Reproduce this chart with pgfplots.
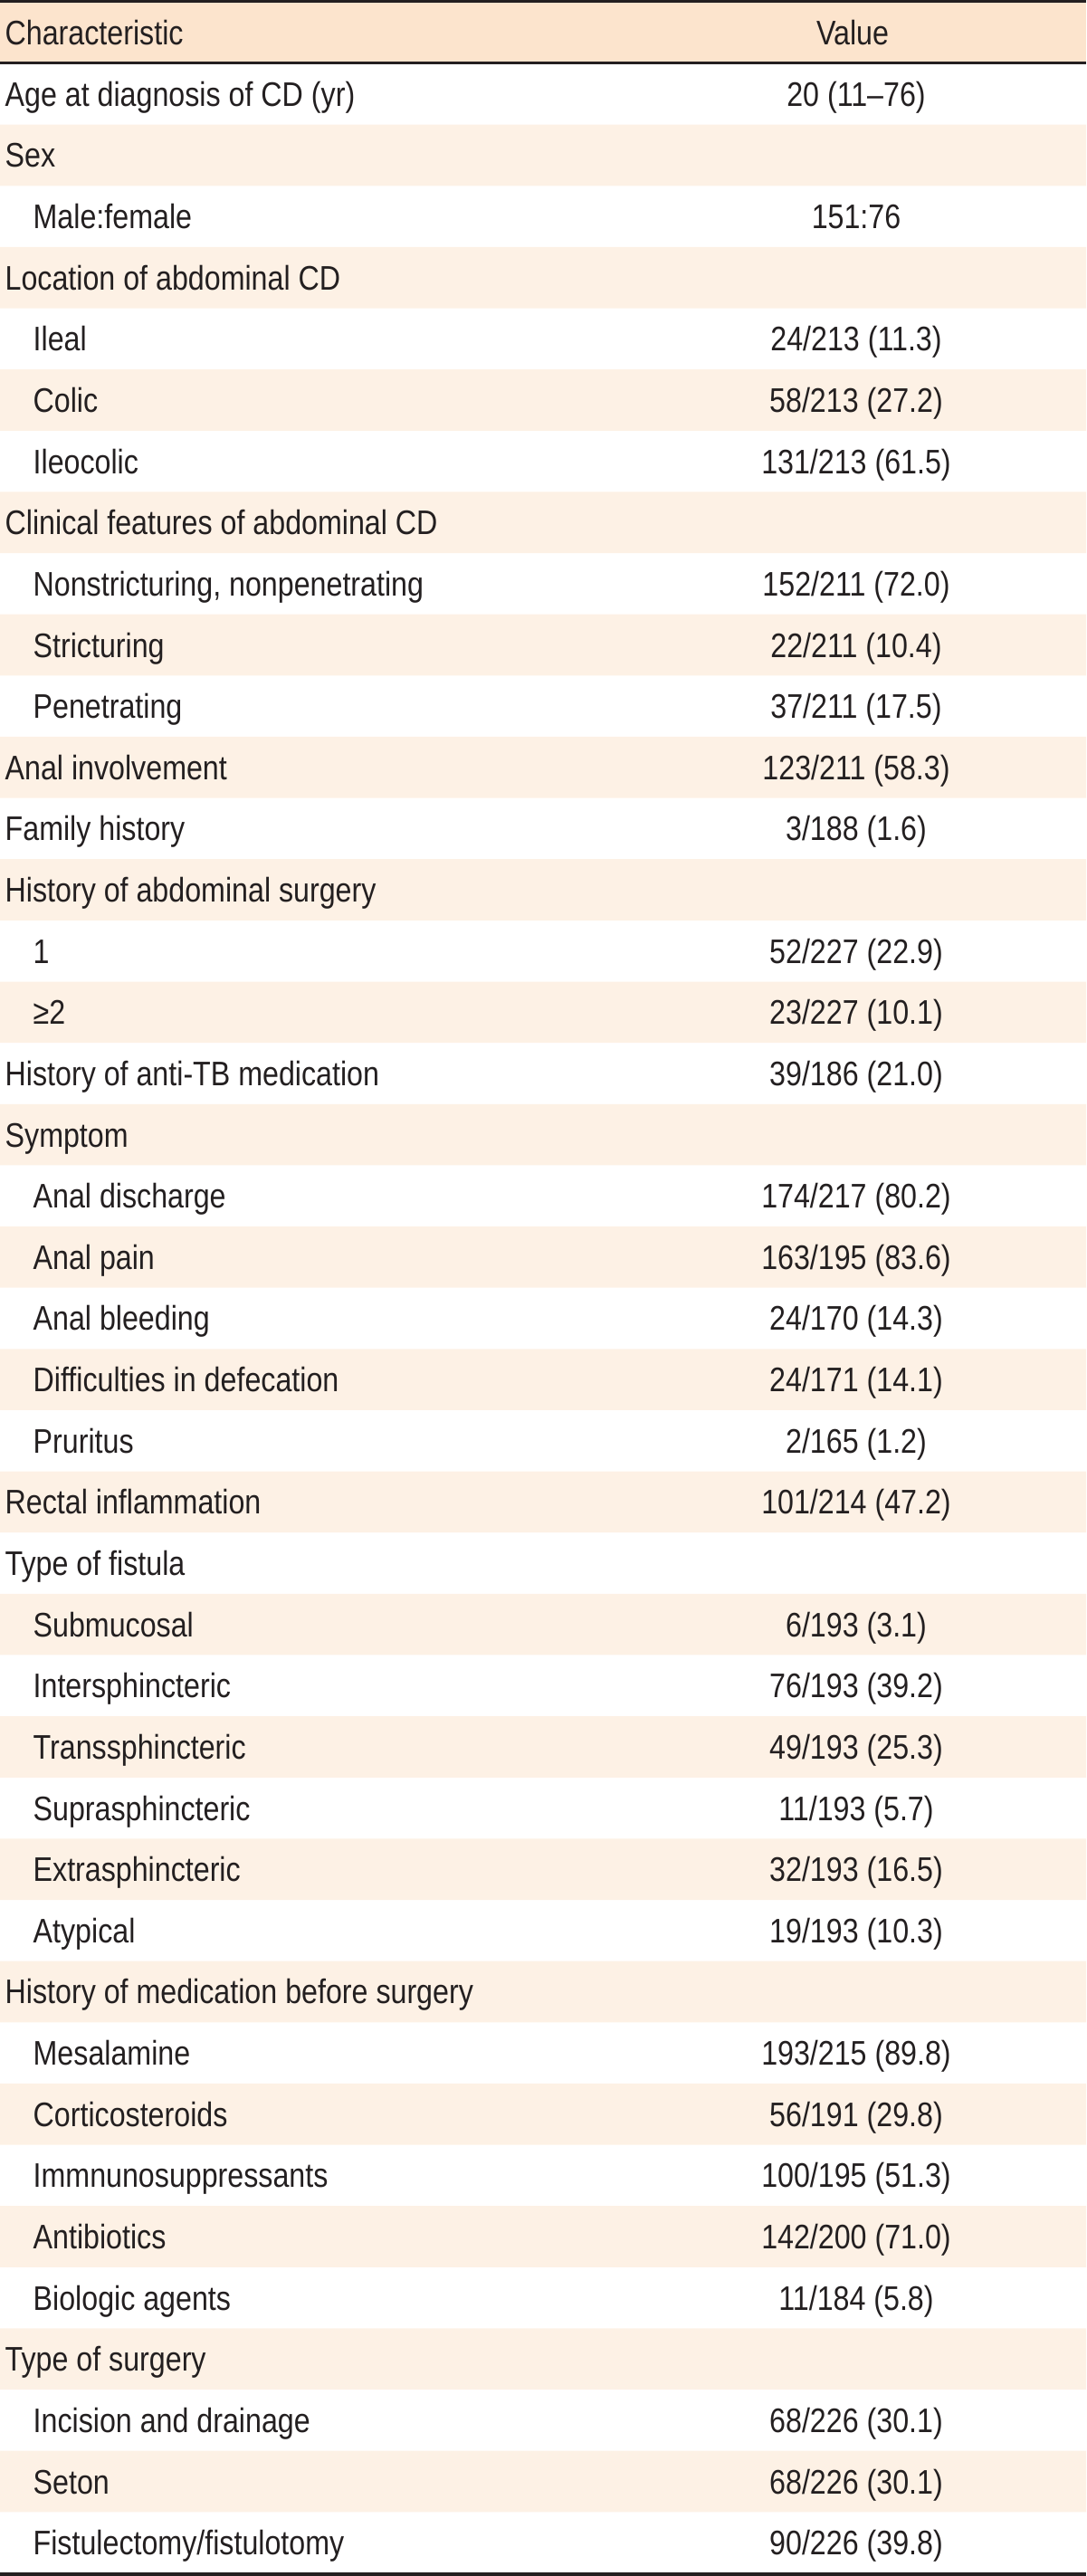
\documentclass[border=0pt]{standalone}
\usepackage{fontspec}
\setmainfont{Liberation Sans}[FakeStretch=0.855]
\usepackage{pgfplots}
\usepackage{pgfplotstable}
\pgfplotsset{compat=1.18}
\definecolor{headfill}{RGB}{252,228,205}
\definecolor{stripefill}{RGB}{253,241,229}
\definecolor{ink}{RGB}{35,31,32}

% row index; indent flag; characteristic; value
\pgfplotstableread[col sep=semicolon]{
i;ind;label;value
1;0;Age at diagnosis of CD (yr);20 (11–76)
2;0;Sex;
3;1;Male:female;151:76
4;0;Location of abdominal CD;
5;1;Ileal;24/213 (11.3)
6;1;Colic;58/213 (27.2)
7;1;Ileocolic;131/213 (61.5)
8;0;Clinical features of abdominal CD;
9;1;Nonstricturing, nonpenetrating;152/211 (72.0)
10;1;Stricturing;22/211 (10.4)
11;1;Penetrating;37/211 (17.5)
12;0;Anal involvement;123/211 (58.3)
13;0;Family history;3/188 (1.6)
14;0;History of abdominal surgery;
15;1;1;52/227 (22.9)
16;1;≥2;23/227 (10.1)
17;0;History of anti-TB medication;39/186 (21.0)
18;0;Symptom;
19;1;Anal discharge;174/217 (80.2)
20;1;Anal pain;163/195 (83.6)
21;1;Anal bleeding;24/170 (14.3)
22;1;Difficulties in defecation;24/171 (14.1)
23;1;Pruritus;2/165 (1.2)
24;0;Rectal inflammation;101/214 (47.2)
25;0;Type of fistula;
26;1;Submucosal;6/193 (3.1)
27;1;Intersphincteric;76/193 (39.2)
28;1;Transsphincteric;49/193 (25.3)
29;1;Suprasphincteric;11/193 (5.7)
30;1;Extrasphincteric;32/193 (16.5)
31;1;Atypical;19/193 (10.3)
32;0;History of medication before surgery;
33;1;Mesalamine;193/215 (89.8)
34;1;Corticosteroids;56/191 (29.8)
35;1;Immnunosuppressants;100/195 (51.3)
36;1;Antibiotics;142/200 (71.0)
37;1;Biologic agents;11/184 (5.8)
38;0;Type of surgery;
39;1;Incision and drainage;68/226 (30.1)
40;1;Seton;68/226 (30.1)
41;1;Fistulectomy/fistulotomy;90/226 (39.8)
}\rows

\pgfplotstableread{
x y
1200 2
1200 4
1200 6
1200 8
1200 10
1200 12
1200 14
1200 16
1200 18
1200 20
1200 22
1200 24
1200 26
1200 28
1200 30
1200 32
1200 34
1200 36
1200 38
1200 40
}\stripes

\tikzset{
  celltext/.style={inner sep=0pt, text=ink,
    font=\fontsize{11.3pt}{13pt}\selectfont, yshift=-4.05pt},
}

\begin{document}
\begin{tikzpicture}
\begin{axis}[
  width=360pt, height=853.8pt, scale only axis,
  xmin=0, xmax=1200,
  ymin=-0.535, ymax=41.545, y dir=reverse,
  hide axis, clip=false,
  table/col sep=semicolon,
]
% header band and stripes
\addplot[xbar, bar width=1.0276, bar shift=0, fill=headfill, draw=none]
  coordinates {(1200,-0.0212)};
\addplot[xbar, bar width=1, bar shift=0, fill=stripefill, draw=none]
  table[x=x, y=y, col sep=space] {\stripes};
% rules
\addplot[ink, line width=0.9pt] coordinates {(0,-0.513) (1200,-0.513)};
\addplot[ink, line width=0.75pt] coordinates {(0,0.4926) (1200,0.4926)};
\addplot[ink, line width=1.2pt] coordinates {(0,41.515) (1200,41.515)};
% header text
\addplot[only marks, mark=none, nodes near coords, point meta=explicit symbolic,
  every node near coord/.style={anchor=base west, celltext}]
  coordinates {(5,0) [Characteristic]};
\addplot[only marks, mark=none, nodes near coords, point meta=explicit symbolic,
  every node near coord/.style={anchor=base, celltext}]
  coordinates {(942,0) [Value]};
% characteristic column
\addplot[only marks, mark=none, nodes near coords, point meta=explicit symbolic,
  every node near coord/.style={anchor=base west, celltext}]
  table[x expr=5+31*\thisrow{ind}, y=i, meta=label] {\rows};
% value column
\addplot[only marks, mark=none, nodes near coords, point meta=explicit symbolic,
  every node near coord/.style={anchor=base, celltext}]
  table[x expr=946, y=i, meta=value] {\rows};
\end{axis}
\pgfresetboundingbox
\useasboundingbox (current axis.south west) rectangle (current axis.north east);
\end{tikzpicture}
\end{document}
